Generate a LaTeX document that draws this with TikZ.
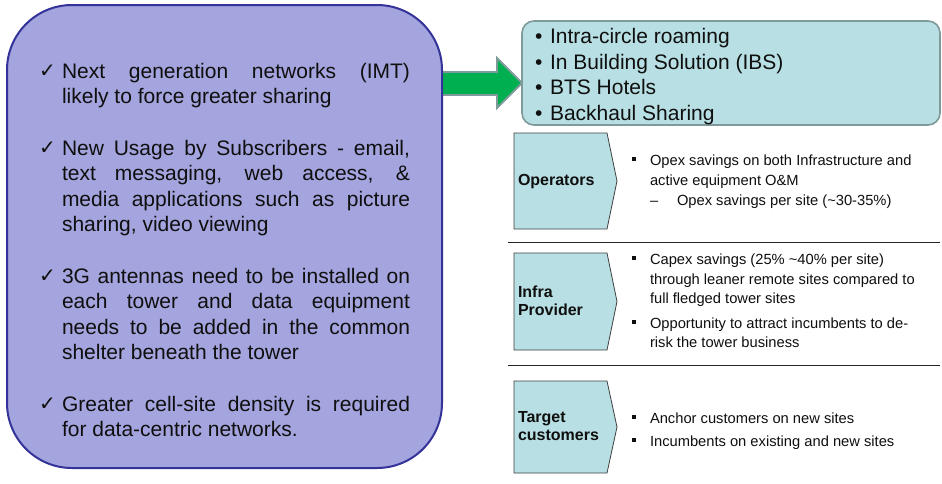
\documentclass[tikz,border=0pt]{standalone}
\usepackage{fontspec}
\setmainfont{Liberation Sans}
\newfontfamily\dejavu{DejaVu Sans}
\definecolor{lav}{RGB}{164,164,222}
\definecolor{lavb}{RGB}{51,51,153}
\definecolor{tealf}{RGB}{184,223,227}
\definecolor{tealb}{RGB}{127,154,154}
\definecolor{arrg}{RGB}{0,176,80}
\definecolor{txt}{RGB}{15,15,15}
\newcommand\jline[1]{\makebox[348pt][s]{#1}}
\begin{document}
\begin{tikzpicture}[x=1pt,y=-1pt,
  every node/.style={inner sep=0pt,outer sep=0pt,text=txt},
  bigtxt/.style={anchor=base west,font=\fontsize{21}{25.5}\selectfont},
  chk/.style={anchor=base west,font=\dejavu\fontsize{20}{22}\selectfont},
  toptxt/.style={anchor=base west,font=\fontsize{21}{25.5}\selectfont},
  lbl/.style={anchor=base west,font=\bfseries\fontsize{16}{18}\selectfont},
  sm/.style={anchor=base west,font=\fontsize{14.7}{19.5}\selectfont},
  chevst/.style={draw=black!75,line width=0.8pt,fill=tealf},
  sq/.style={fill=txt}]
\useasboundingbox (0,0) rectangle (942,483);
\fill[white] (0,0) rectangle (942,483);

% green arrow
\draw[draw=tealb,line width=1.8pt,fill=arrg,line join=miter]
  (442,72) -- (497,72) -- (497,58) -- (522,83) -- (497,108) -- (497,95) -- (442,95);

% left box
\draw[lavb,line width=2pt,fill=lav,rounded corners=65pt] (7,5) rectangle (442,468);

% top right box
\draw[tealb,line width=1.6pt,fill=tealf,rounded corners=12pt] (522,21) rectangle (940,125);

% left texts
\node[chk] (c1) at (39,77) {✓};
\node[bigtxt] (p1) at (62,78) {\parbox[t]{348pt}{\jline{Next generation networks (IMT)}\\likely to force greater sharing}};
\node[chk] (c2) at (39,154) {✓};
\node[bigtxt] (p2) at (62,155) {\parbox[t]{348pt}{\jline{New Usage by Subscribers - email,}\\\jline{text messaging, web access, \&}\\\jline{media applications such as picture}\\sharing, video viewing}};
\node[chk] (c3) at (39,282) {✓};
\node[bigtxt] (p3) at (62,283) {\parbox[t]{348pt}{\jline{3G antennas need to be installed on}\\\jline{each tower and data equipment}\\\jline{needs to be added in the common}\\shelter beneath the tower}};
\node[chk] (c4) at (39,410) {✓};
\node[bigtxt] (p4) at (62,411) {\parbox[t]{348pt}{\jline{Greater cell-site density is required}\\for data-centric networks.}};

% top right texts
\node[toptxt] (b1) at (535,43.5) {•};
\node[toptxt] (t1) at (550,43.5) {Intra-circle roaming};
\node[toptxt] (b2) at (535,69) {•};
\node[toptxt] (t2) at (550,69) {In Building Solution (IBS)};
\node[toptxt] (b3) at (535,94.5) {•};
\node[toptxt] (t3) at (550,94.5) {BTS Hotels};
\node[toptxt] (b4) at (535,120) {•};
\node[toptxt] (t4) at (550,120) {Backhaul Sharing};

% chevrons
\draw[chevst] (514,133) -- (607,133) -- (617,181) -- (607,229) -- (514,229) -- cycle;
\draw[chevst] (514,253) -- (607,253) -- (617,301.5) -- (607,350) -- (514,350) -- cycle;
\draw[chevst] (514,381) -- (607,381) -- (617,427) -- (607,473) -- (514,473) -- cycle;

\node[lbl] (l1) at (518,185) {Operators};
\node[lbl] (l2) at (518,297) {Infra};
\node[lbl] (l2b) at (518,315) {Provider};
\node[lbl] (l3) at (518,422) {Target};
\node[lbl] (l3b) at (518,440) {customers};

% separators
\draw[line width=1pt,black!85] (508,242) -- (940,242);
\draw[line width=1pt,black!85] (508,365) -- (940,365);

% operators text
\fill[sq] (631.5,157) rectangle (635.5,161);
\node[sm] (o1) at (650,165) {Opex savings on both Infrastructure and};
\node[sm] (o2) at (650,185) {active equipment O\&M};
\node[sm] (o3) at (650,205) {–};
\node[sm] (o4) at (677,205) {Opex savings per site (\textasciitilde30-35\%)};

% infra text
\fill[sq] (631.5,256) rectangle (635.5,260);
\node[sm] (i1) at (650,264) {Capex savings (25\% \textasciitilde40\% per site)};
\node[sm] (i2) at (650,284) {through leaner remote sites compared to};
\node[sm] (i3) at (650,303.5) {full fledged tower sites};
\fill[sq] (631.5,320) rectangle (635.5,324);
\node[sm] (i4) at (650,328) {Opportunity to attract incumbents to de-};
\node[sm] (i5) at (650,347.5) {risk the tower business};

% target text
\fill[sq] (631.5,415) rectangle (635.5,419);
\node[sm] (g1) at (650,423) {Anchor customers on new sites};
\fill[sq] (631.5,438) rectangle (635.5,442);
\node[sm] (g2) at (650,446) {Incumbents on existing and new sites};
\end{tikzpicture}
\end{document}
